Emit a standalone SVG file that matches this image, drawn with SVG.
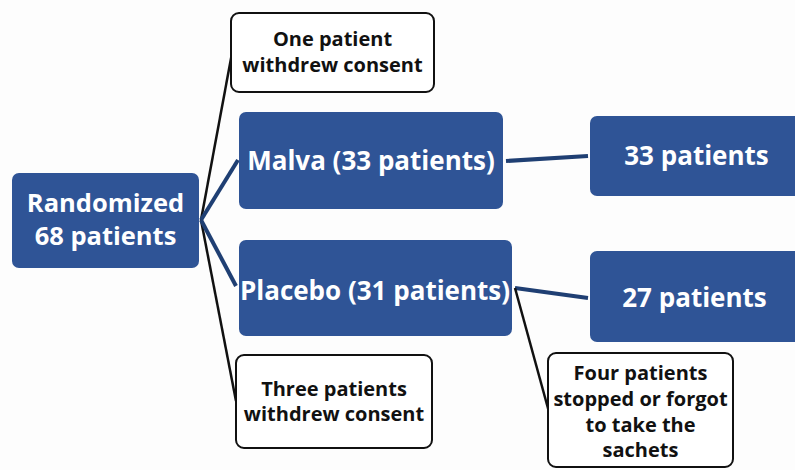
<svg xmlns="http://www.w3.org/2000/svg" width="795" height="470" viewBox="0 0 795 470">
<style>
.blue{fill:#2f5496;}
.wbox{fill:#ffffff;stroke:#111111;stroke-width:2;}
.wt{font-family:"Open Sans","Liberation Sans",sans-serif;font-weight:bold;fill:#ffffff;text-anchor:middle;font-size:26px;}
.bt{font-family:"Open Sans","Liberation Sans",sans-serif;font-weight:bold;fill:#111111;text-anchor:middle;font-size:20px;}
.lb{stroke:#1f3f73;stroke-width:4;fill:none;}
.lk{stroke:#111111;stroke-width:2.5;fill:none;}
</style>
<rect width="795" height="470" fill="#fdfdfd"/>
<g id="connectors">
<line class="lk" x1="201" y1="220" x2="232" y2="53"/>
<line class="lk" x1="201" y1="220" x2="236" y2="401"/>
<line class="lb" x1="201" y1="220" x2="238" y2="160"/>
<line class="lb" x1="201" y1="220" x2="236" y2="286"/>
<line class="lb" x1="506" y1="161" x2="588" y2="156"/>
<line class="lb" x1="515" y1="288" x2="588" y2="298"/>
<line class="lk" x1="515" y1="288" x2="549" y2="412"/>
</g>
<g id="randomized">
<rect class="blue" x="12" y="173" width="187" height="95" rx="7"/>
<text class="wt" x="105.5" y="212" style="font-size:25.5px">Randomized</text>
<text class="wt" x="105.5" y="245" style="font-size:25.5px">68 patients</text>
</g>
<g id="one-withdrew">
<rect class="wbox" x="231" y="13" width="203" height="79" rx="8"/>
<text class="bt" x="332.5" y="46">One patient</text>
<text class="bt" x="332.5" y="72">withdrew consent</text>
</g>
<g id="malva">
<rect class="blue" x="239" y="112" width="264" height="97" rx="7"/>
<text class="wt" x="371" y="170">Malva (33 patients)</text>
</g>
<g id="malva-33">
<rect class="blue" x="590" y="116" width="215" height="80" rx="7"/>
<text class="wt" x="696.5" y="165">33 patients</text>
</g>
<g id="placebo">
<rect class="blue" x="239" y="240" width="273" height="96" rx="7"/>
<text class="wt" x="375" y="300">Placebo (31 patients)</text>
</g>
<g id="placebo-27">
<rect class="blue" x="590" y="251" width="215" height="91" rx="7"/>
<text class="wt" x="694.5" y="307">27 patients</text>
</g>
<g id="three-withdrew">
<rect class="wbox" x="236" y="355" width="196" height="93" rx="8"/>
<text class="bt" x="334" y="396">Three patients</text>
<text class="bt" x="334" y="421">withdrew consent</text>
</g>
<g id="four-stopped">
<rect class="wbox" x="548" y="353" width="185" height="114" rx="8"/>
<text class="bt" x="640.5" y="380">Four patients</text>
<text class="bt" x="640.5" y="406">stopped or forgot</text>
<text class="bt" x="640.5" y="432">to take the</text>
<text class="bt" x="640.5" y="457">sachets</text>
</g>
</svg>
